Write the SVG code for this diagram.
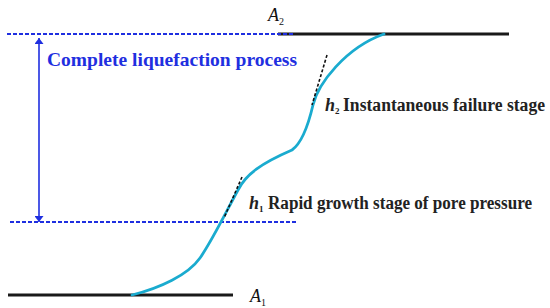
<svg xmlns="http://www.w3.org/2000/svg" width="550" height="308" viewBox="0 0 550 308">
<style>
.base{stroke:#1a1a1a;stroke-width:3;fill:none}
.dash{stroke:#1f2fe0;stroke-width:2;stroke-dasharray:4 2;fill:none}
.tan{stroke:#111;stroke-width:1.6;stroke-dasharray:3 2;fill:none}
.curve{stroke:#1aabcf;stroke-width:2.8;fill:none;stroke-linecap:round}
.arr{stroke:#1f2fe0;stroke-width:1.6;fill:none}
.lbl{font-family:"Liberation Serif",serif;font-weight:bold;fill:#222}
.ax{font-family:"Liberation Serif",serif;font-style:italic;fill:#111}
</style>
<defs>
<marker id="ah" viewBox="0 0 10 10" refX="10" refY="5" markerWidth="6" markerHeight="9" markerUnits="userSpaceOnUse" orient="auto" preserveAspectRatio="none">
<path d="M0,0 L10,5 L0,10 Z" fill="#1f2fe0"/>
</marker>
</defs>
<g id="baselines">
<line class="base" x1="8" y1="295" x2="233" y2="295"/>
<line class="base" x1="278" y1="34" x2="509" y2="34"/>
</g>
<g id="levels">
<line class="dash" x1="7" y1="34" x2="293" y2="34"/>
<line class="dash" x1="10" y1="222" x2="296" y2="222"/>
</g>
<g id="curve">
<path class="curve" d="M132,295 C160,288 188,275 200,258 C212,241 226,212 238,190 C246,174 262,163 292,150 C302,143 309,122 313,105 C318,84 345,48 384,34"/>
</g>
<g id="tangents">
<line class="tan" x1="242" y1="177" x2="224" y2="218"/>
<line class="tan" x1="327" y1="55" x2="312" y2="105"/>
</g>
<g id="connectors">
<line class="arr" x1="39" y1="130" x2="39" y2="38" marker-end="url(#ah)"/>
<line class="arr" x1="39" y1="130" x2="39" y2="222" marker-end="url(#ah)"/>
</g>
<g id="label-A2">
<text class="ax" x="268" y="21" font-size="18">A<tspan font-size="10" font-style="normal" dy="4">2</tspan></text>
</g>
<g id="label-A1">
<text class="ax" x="250" y="302" font-size="18">A<tspan font-size="10" font-style="normal" dy="4">1</tspan></text>
</g>
<g id="label-complete">
<text class="lbl" x="47" y="66" font-size="19" style="fill:#1f2fe0" textLength="250" lengthAdjust="spacingAndGlyphs">Complete liquefaction process</text>
</g>
<g id="label-h2">
<text class="lbl" x="325" y="111" font-size="18" font-style="italic">h</text>
<text class="lbl" x="335" y="114" font-size="9">2</text>
<text class="lbl" x="343" y="111" font-size="18" textLength="202" lengthAdjust="spacingAndGlyphs">Instantaneous failure stage</text>
</g>
<g id="label-h1">
<text class="lbl" x="249" y="209" font-size="18" font-style="italic">h</text>
<text class="lbl" x="259" y="212" font-size="9">1</text>
<text class="lbl" x="268" y="209" font-size="18" textLength="264" lengthAdjust="spacingAndGlyphs">Rapid growth stage of pore pressure</text>
</g>
</svg>
